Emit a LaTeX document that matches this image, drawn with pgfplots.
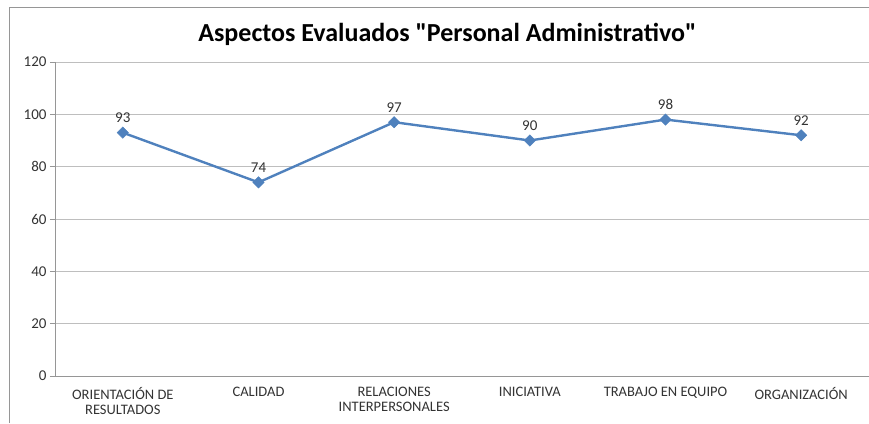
\documentclass[border=0pt]{standalone}
\usepackage{fontspec}
\setmainfont{Carlito}
\usepackage{pgfplots}
\pgfplotsset{compat=1.18}
\definecolor{xlblue}{RGB}{79,129,189}
\definecolor{gridc}{RGB}{190,190,190}
\definecolor{axc}{RGB}{150,150,150}
\begin{document}
\begin{tikzpicture}[x=1bp,y=1bp]
\path[use as bounding box] (-55,-47) rectangle (814,376);
\draw[axc,line width=1bp] (-45,-47) -- (-45,369) -- (814,369);
\begin{axis}[
  at={(0,0)}, anchor=south west,
  scale only axis, width=814bp, height=314bp,
  xmin=-0.5, xmax=5.5, ymin=0, ymax=120,
  ytick={0,20,...,120},
  xtick={0,...,5},
  xticklabels={ORIENTACIÓN DE\\RESULTADOS, CALIDAD, RELACIONES\\INTERPERSONALES, INICIATIVA, TRABAJO EN EQUIPO, ORGANIZACIÓN},
  xticklabel style={align=center, font=\fontsize{14.5bp}{15bp}\selectfont, color=black!80, yshift=-3bp, anchor=north},
  yticklabel style={font=\fontsize{15bp}{16bp}\selectfont, color=black!80},
  /pgf/number format/assume math mode=true,
  ymajorgrids, major grid style={gridc, line width=0.8bp},
  axis line style={axc, line width=0.8bp},
  axis x line*=bottom, axis y line*=left,
  extra x ticks={-0.5,0.5,1.5,2.5,3.5,4.5},
  extra x tick labels={},
  extra x tick style={major tick length=5bp, tick style={axc, line width=0.8bp}, grid=none, tick align=outside},
  major x tick style={draw=none},
  major tick length=5bp,
  tick align=outside,
  ytick style={axc, line width=0.8bp},
  title={\bfseries\fontsize{26bp}{28bp}\selectfont Aspectos Evaluados \textquotedbl Personal Administrativo\textquotedbl},
  title style={at={(0.482,1)}, anchor=south, yshift=7bp},
  clip=false,
]
\addplot[xlblue, line width=2.4bp, mark=square*, mark size=4bp, mark options={fill=xlblue, line width=0.5bp, rotate=45},
  nodes near coords, nodes near coords style={font=\fontsize{15bp}{16bp}\selectfont, color=black!80, yshift=6bp}]
  coordinates {(0,93) (1,74) (2,97) (3,90) (4,98) (5,92)};
\end{axis}
\end{tikzpicture}
\end{document}
